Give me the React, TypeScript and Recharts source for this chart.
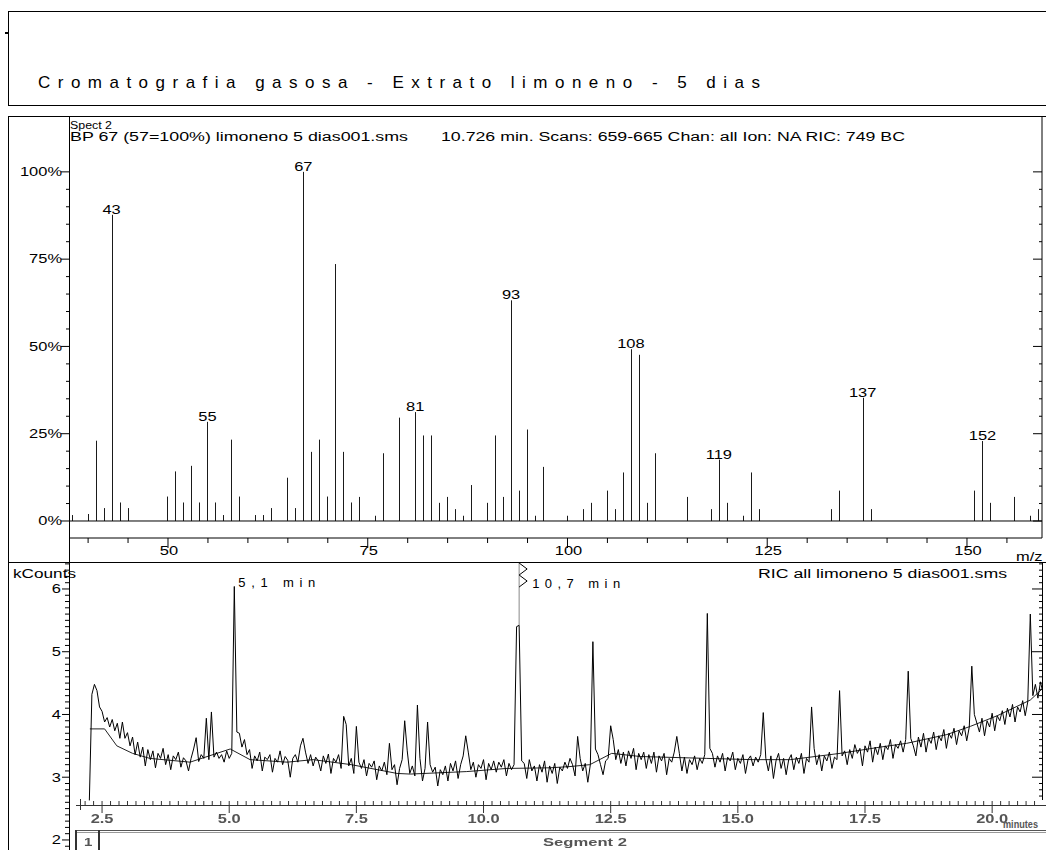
import React from 'react';
import { BarChart, Bar, LabelList, LineChart, Line, XAxis, YAxis, ReferenceLine } from 'recharts';

const FONT = "'Liberation Sans', Arial, Helvetica, sans-serif";
const SX = 1.37; // printout glyphs are stretched horizontally

// mass spectrum of the scan at 10.726 min
const mzValues = [38, 40, 41, 42, 43, 44, 45, 50, 51, 52, 53, 54, 55, 56, 57, 58, 59, 61, 62, 63, 65, 66, 67, 68, 69, 70, 71, 72, 73, 74, 76, 77, 79, 81, 82, 83, 84, 85, 86, 87, 88, 90, 91, 92, 93, 94, 95, 96, 97, 100, 102, 103, 105, 106, 107, 108, 109, 110, 111, 115, 118, 119, 120, 122, 123, 124, 133, 134, 137, 138, 151, 152, 153, 156, 158, 159];
const relAbundance = [1.7, 2, 23, 3.7, 87.7, 5.3, 3.7, 7, 14.2, 5.3, 15.8, 5.3, 28.4, 5.3, 1.7, 23.3, 7, 1.7, 1.7, 3.7, 12.4, 3.7, 100, 19.8, 23.3, 7, 73.6, 19.8, 5.3, 6.9, 1.5, 19.4, 29.6, 31.2, 24.5, 24.5, 5.2, 6.9, 3.4, 1.5, 10.3, 5.2, 24.5, 6.9, 63.2, 8.7, 26.2, 1.5, 15.5, 1.5, 3.4, 5.2, 8.7, 3.4, 13.9, 49.2, 47.6, 5.2, 19.4, 6.9, 3.4, 17.6, 5.2, 1.5, 13.9, 3.4, 3.4, 8.7, 35.3, 3.4, 8.7, 22.9, 5.2, 6.9, 1.5, 3.4];
const taggedMz = [43, 55, 67, 81, 93, 108, 119, 137, 152];
const mzTicks = [40, 45, 50, 55, 60, 65, 70, 75, 80, 85, 90, 95, 100, 105, 110, 115, 120, 125, 130, 135, 140, 145, 150, 155];
const pctTicks = [0, 5, 10, 15, 20, 25, 30, 35, 40, 45, 50, 55, 60, 65, 70, 75, 80, 85, 90, 95, 100];

// RIC trace, one scan every 0.05 min from 2.25 min (kCounts)
const ricStart = 2.25;
const ricStep = 0.05;
const ricCounts = [
  2.63, 4.32, 4.48, 4.38, 4.12, 4.05, 3.88, 3.95, 3.80, 3.92, 3.74, 3.86, 3.62, 3.88, 3.62, 3.71, 3.50, 3.64, 3.36, 3.56,
  3.32, 3.48, 3.18, 3.44, 3.28, 3.42, 3.15, 3.38, 3.30, 3.46, 3.20, 3.36, 3.12, 3.34, 3.28, 3.40, 3.16, 3.31, 3.26, 3.10,
  3.30, 3.45, 3.63, 3.25, 3.36, 3.30, 3.94, 3.28, 4.04, 3.32, 3.40, 3.30, 3.36, 3.24, 3.42, 3.30, 3.38, 6.04, 3.72, 3.70,
  3.48, 3.60, 3.36, 3.44, 3.14, 3.34, 3.26, 3.40, 3.10, 3.32, 3.28, 3.36, 3.08, 3.30, 3.24, 3.42, 3.20, 3.33, 3.27, 3.00,
  3.30, 3.36, 3.24, 3.50, 3.62, 3.40, 3.22, 3.36, 3.18, 3.32, 3.26, 3.10, 3.34, 3.22, 3.37, 3.06, 3.30, 3.24, 3.36, 3.14,
  3.97, 3.84, 3.18, 3.30, 3.06, 3.81, 3.24, 3.14, 3.28, 3.02, 3.22, 3.16, 3.26, 2.96, 3.18, 3.10, 3.24, 3.04, 3.54, 3.12,
  3.20, 2.88, 3.14, 3.28, 3.90, 3.42, 3.06, 3.18, 3.02, 4.15, 3.30, 2.94, 3.14, 3.88, 3.20, 3.08, 3.16, 2.86, 3.12, 3.04,
  3.18, 2.94, 3.22, 3.10, 3.26, 2.98, 3.20, 3.34, 3.66, 3.40, 3.12, 3.24, 3.00, 3.20, 3.14, 3.28, 2.96, 3.22, 3.12, 3.26,
  3.08, 3.24, 3.16, 3.28, 3.02, 3.22, 3.12, 3.20, 5.40, 5.42, 3.26, 3.22, 2.98, 3.28, 3.10, 3.18, 2.94, 3.20, 3.08, 3.26,
  2.92, 3.18, 3.06, 3.22, 2.90, 3.16, 3.10, 3.24, 3.14, 3.30, 3.20, 3.02, 3.65, 3.30, 3.10, 3.22, 2.92, 3.20, 5.16, 3.45,
  3.36, 3.20, 3.04, 3.26, 3.30, 3.82, 3.60, 3.28, 3.44, 3.22, 3.40, 3.18, 3.42, 3.30, 3.46, 3.12, 3.38, 3.28, 3.40, 3.14,
  3.36, 3.22, 3.40, 3.08, 3.34, 3.26, 3.38, 3.04, 3.30, 3.24, 3.40, 3.65, 3.38, 3.10, 3.32, 3.06, 3.28, 3.20, 3.34, 3.12,
  3.30, 3.22, 3.36, 5.61, 3.46, 3.38, 3.16, 3.34, 3.24, 3.38, 3.10, 3.32, 3.26, 3.40, 3.12, 3.30, 3.22, 3.36, 3.06, 3.28,
  3.34, 3.18, 3.32, 3.24, 3.36, 4.03, 3.30, 3.10, 3.34, 2.98, 3.26, 3.38, 3.14, 3.30, 3.04, 3.28, 3.36, 3.12, 3.32, 3.22,
  3.38, 3.06, 3.30, 3.24, 4.12, 3.46, 3.20, 3.36, 3.10, 3.34, 3.26, 3.40, 3.14, 3.32, 3.28, 4.38, 3.34, 3.42, 3.20, 3.44,
  3.30, 3.52, 3.38, 3.46, 3.18, 3.50, 3.40, 3.58, 3.24, 3.48, 3.36, 3.54, 3.28, 3.50, 3.44, 3.60, 3.30, 3.52, 3.46, 3.58,
  3.40, 3.60, 4.69, 3.62, 3.50, 3.34, 3.64, 3.48, 3.70, 3.40, 3.62, 3.54, 3.72, 3.44, 3.66, 3.58, 3.76, 3.46, 3.70, 3.62,
  3.78, 3.52, 3.74, 3.66, 3.82, 3.58, 3.80, 4.77, 4.00, 3.86, 3.72, 3.94, 3.66, 3.90, 3.80, 4.02, 3.74, 3.98, 3.90, 4.06,
  3.84, 4.10, 3.96, 4.16, 3.88, 4.12, 4.04, 4.22, 3.98, 4.20, 5.60, 4.30, 4.48, 4.26, 4.52, 4.34,
];

// smoothed baseline under the trace
const baseTimes = [2.26, 2.55, 2.79, 3.10, 3.44, 4.23, 5.02, 5.41, 6.14, 6.65, 7.40, 8.30, 8.56, 9.67, 10.46, 11.31, 11.70, 12.09, 12.52, 13.08, 14.39, 15.30, 16.03, 17.01, 17.80, 18.32, 19.11, 19.57, 20.10, 20.75, 21.00];
const baseCounts = [3.77, 3.77, 3.50, 3.38, 3.30, 3.24, 3.45, 3.28, 3.24, 3.28, 3.20, 3.06, 3.05, 3.09, 3.14, 3.15, 3.17, 3.20, 3.38, 3.33, 3.30, 3.28, 3.28, 3.38, 3.48, 3.54, 3.68, 3.81, 3.98, 4.23, 4.42];

const minuteLabels = [2.5, 5, 7.5, 10, 12.5, 15, 17.5, 20];
const markedPeaks = [
  { t: 5.1, label: '5,1 min' },
  { t: 10.7, label: '10,7 min' },
];

const spectrum = mzValues.map((mz, i) => ({
  mz,
  pct: relAbundance[i],
  tag: taggedMz.includes(mz) ? String(mz) : undefined,
}));
const ric = ricCounts.map((v, i) => ({ t: +(ricStart + i * ricStep).toFixed(2), v }));
const baseline = baseTimes.map((t, i) => ({ t, v: baseCounts[i] }));

// 10 s minor ticks on the time axis
const minuteTicks: number[] = [];
for (let k = -2; k <= 110; k++) minuteTicks.push(+(2.5 + k / 6).toFixed(4));
const kTicks: number[] = [];
for (let k = 19; k <= 64; k++) kTicks.push(k / 10);

const TIME_AXIS_Y = 805;

function Txt({ x, y, children, anchor = 'start', size = 12, weight = 400, fill = '#000', len, spacing, blur }: any) {
  if (len) {
    return (
      <text x={x} y={y} fontSize={size} fontWeight={weight} fill={fill} fontFamily={FONT}
        textLength={len} lengthAdjust={spacing ? 'spacing' : 'spacingAndGlyphs'} filter={blur ? 'url(#soft)' : undefined}>
        {children}
      </text>
    );
  }
  return (
    <g transform={`translate(${x},${y}) scale(${SX},1)`} filter={blur ? 'url(#soft)' : undefined}>
      <text x={0} y={0} textAnchor={anchor} fontSize={size} fontWeight={weight} fill={fill} fontFamily={FONT}>
        {children}
      </text>
    </g>
  );
}

const Stick = (p: any) => {
  const cx = Math.round(p.x + p.width / 2) + 0.5;
  return <line x1={cx} x2={cx} y1={p.y} y2={p.y + p.height} stroke="#1a1a1a" strokeWidth={1} />;
};

const PeakLabel = (p: any) => {
  if (!p.value) return null;
  const vb = p.viewBox || p;
  return <Txt x={vb.x + vb.width / 2} y={vb.y - 1} anchor="middle">{p.value}</Txt>;
};

const MzTick = (p: any) => {
  const { x, y, payload } = p;
  const major = payload.value % 25 === 0;
  return (
    <g>
      <line x1={x} x2={x} y1={y} y2={y + (major ? 10 : 5)} stroke="#000" />
      {major && <Txt x={x + 1} y={y + 17} anchor="middle">{payload.value}</Txt>}
    </g>
  );
};

const PctTick = (p: any) => {
  const { x, y, payload, side } = p;
  const major = payload.value % 25 === 0;
  if (side === 'r') return <line x1={x - (major ? 9 : 3)} x2={x} y1={y} y2={y} stroke="#000" />;
  return (
    <g>
      <line x1={x - (major ? 8 : 3)} x2={x} y1={y} y2={y} stroke="#000" />
      {major && <Txt x={x - 7} y={y + 4.3} anchor="end">{payload.value}%</Txt>}
    </g>
  );
};

const KTick = (p: any) => {
  const { x, y, payload, side } = p;
  const v = payload.value;
  const major = Math.abs(v - Math.round(v)) < 1e-6;
  if (side === 'r') {
    if (v < 2.65) return null;
    return <line x1={x - (major ? 10 : 3)} x2={x} y1={y} y2={y} stroke="#000" />;
  }
  return (
    <g>
      <line x1={x - (major ? 7 : 4)} x2={x} y1={y} y2={y} stroke="#000" />
      {major && <Txt x={x - 8} y={y + 4.3} anchor="end">{Math.round(v)}</Txt>}
    </g>
  );
};

const MinuteTick = (p: any) => {
  const { x, payload } = p;
  const v = payload.value;
  const major = minuteLabels.some((m) => Math.abs(m - v) < 1e-3);
  const y = TIME_AXIS_Y;
  return (
    <g>
      <line x1={x} x2={x} y1={y - 4} y2={major ? y + 8 : y} stroke="#333" />
      {major && <Txt x={x} y={y + 18} anchor="middle" weight={700} fill="#555" blur>{v.toFixed(1)}</Txt>}
    </g>
  );
};

const tx = (t: number) => 69 + (t - 1.85) * (973 / (20.98 - 1.85));

export default function App() {
  const m1 = tx(markedPeaks[0].t);
  const m2 = tx(markedPeaks[1].t);
  return (
    <div style={{ position: 'absolute', left: 0, top: 0, width: 1046, height: 850, overflow: 'hidden', background: '#fff' }}>
      <div style={{ position: 'absolute', left: 0, top: 0 }}>
        <BarChart width={1046} height={562} data={spectrum} margin={{ top: 116, right: 0, bottom: 0, left: 9 }} barSize={1}>
          <XAxis dataKey="mz" type="number" domain={[37.61, 159.39]} allowDataOverflow ticks={mzTicks} interval={0}
            height={24} tickSize={0} tickMargin={0} tickLine={false} axisLine={{ stroke: '#000' }} tick={(p: any) => <MzTick {...p} />} />
          <YAxis yAxisId="l" type="number" domain={[-4.87, 116]} allowDataOverflow ticks={pctTicks} interval={0}
            width={60} tickSize={0} tickMargin={0} tickLine={false} axisLine={false} tick={(p: any) => <PctTick {...p} side="l" />} />
          <YAxis yAxisId="r" orientation="right" type="number" domain={[-4.87, 116]} allowDataOverflow ticks={pctTicks} interval={0}
            width={4} tickSize={0} tickMargin={0} tickLine={false} axisLine={{ stroke: '#000' }} tick={(p: any) => <PctTick {...p} side="r" />} />
          <ReferenceLine yAxisId="l" y={0} stroke="#000" />
          <Bar yAxisId="l" dataKey="pct" isAnimationActive={false} shape={(p: any) => <Stick {...p} />}>
            <LabelList dataKey="tag" content={(p: any) => <PeakLabel {...p} />} />
          </Bar>
        </BarChart>
      </div>

      <div style={{ position: 'absolute', left: 0, top: 0 }}>
        <LineChart width={1046} height={852} margin={{ top: 562, right: 0, bottom: 0, left: 9 }}>
          <XAxis dataKey="t" type="number" domain={[1.85, 20.98]} allowDataOverflow ticks={minuteTicks} interval={0}
            height={2} tickSize={0} tickMargin={0} tickLine={false} axisLine={false} tick={(p: any) => <MinuteTick {...p} />} />
          <YAxis yAxisId="l" type="number" domain={[1.84, 6.43]} allowDataOverflow ticks={kTicks} interval={0}
            width={60} tickSize={0} tickMargin={0} tickLine={false} axisLine={false} tick={(p: any) => <KTick {...p} side="l" />} />
          <YAxis yAxisId="r" orientation="right" type="number" domain={[1.84, 6.43]} allowDataOverflow ticks={kTicks} interval={0}
            width={4} tickSize={0} tickMargin={0} tickLine={false} axisLine={false} tick={(p: any) => <KTick {...p} side="r" />} />
          <ReferenceLine yAxisId="l" segment={[{ x: markedPeaks[1].t, y: 5.42 }, { x: markedPeaks[1].t, y: 6.43 }]} stroke="#888" />
          <Line yAxisId="l" data={baseline} dataKey="v" type="linear" stroke="#222" strokeWidth={1} dot={false} isAnimationActive={false} />
          <Line yAxisId="l" data={ric} dataKey="v" type="linear" stroke="#000" strokeWidth={1} dot={false} isAnimationActive={false} />
        </LineChart>
      </div>

      <svg width={1046} height={850} style={{ position: 'absolute', left: 0, top: 0, pointerEvents: 'none' }}>
        <defs>
          <filter id="soft" x="-20%" y="-40%" width="140%" height="180%">
            <feGaussianBlur stdDeviation="0.45" />
          </filter>
        </defs>
        <g stroke="#000" strokeWidth={1} shapeRendering="crispEdges">
          {/* title frame */}
          <line x1={8} x2={1046} y1={11} y2={11} />
          <line x1={8} x2={1046} y1={105} y2={105} />
          <line x1={8} x2={8} y1={11} y2={105} />
          <line x1={5} x2={8} y1={33} y2={33} strokeWidth={2} />
          {/* plot frame */}
          <line x1={8} x2={1046} y1={116} y2={116} />
          <line x1={8} x2={8} y1={116} y2={850} />
          <line x1={69} x2={69} y1={116} y2={850} />
          <line x1={8} x2={1046} y1={562} y2={562} />
          <line x1={1042} x2={1042} y1={562} y2={800} />
        </g>
        <g stroke="#333" shapeRendering="crispEdges">
          <line x1={76} x2={1046} y1={TIME_AXIS_Y} y2={TIME_AXIS_Y} />
          <line x1={80} x2={80} y1={799} y2={810} />
          <line x1={76} x2={1046} y1={830} y2={830} stroke="#555" />
          <line x1={76} x2={1046} y1={832} y2={832} stroke="#999" />
          <line x1={76} x2={76} y1={830} y2={850} strokeWidth={1.5} />
          <line x1={99} x2={99} y1={830} y2={850} strokeWidth={1.5} />
        </g>

        <Txt x={38} y={88} size={17} len={722} spacing>Cromatografia gasosa - Extrato limoneno - 5 dias</Txt>

        <Txt x={70} y={129} size={10.5} len={42}>Spect 2</Txt>
        <Txt x={70} y={140.5} size={12.5} len={338}>BP 67 (57=100%) limoneno 5 dias001.sms</Txt>
        <Txt x={441} y={140.5} size={12.5} len={464}>10.726 min. Scans: 659-665 Chan: all Ion: NA RIC: 749 BC</Txt>
        <Txt x={1016} y={561}>m/z</Txt>

        <Txt x={13} y={578} size={12} len={63}>kCounts</Txt>
        <Txt x={758} y={578} size={12} len={249}>RIC all limoneno 5 dias001.sms</Txt>

        <Txt x={m1 + 4} y={587} size={13} len={77} spacing>{markedPeaks[0].label}</Txt>
        <polyline points={`${m2},563 ${m2 + 8},569 ${m2},575 ${m2 + 8},581 ${m2},587`} fill="none" stroke="#000" strokeWidth={1} />
        <Txt x={m2 + 13} y={588} size={13} len={88} spacing>{markedPeaks[1].label}</Txt>

        <Txt x={1003} y={828} size={11.5} weight={700} fill="#555" len={35}>minutes</Txt>
        <Txt x={84} y={846} size={11} weight={700} fill="#555" blur>1</Txt>
        <Txt x={543} y={846} size={11} weight={700} fill="#555" len={84} blur>Segment 2</Txt>
      </svg>
    </div>
  );
}
